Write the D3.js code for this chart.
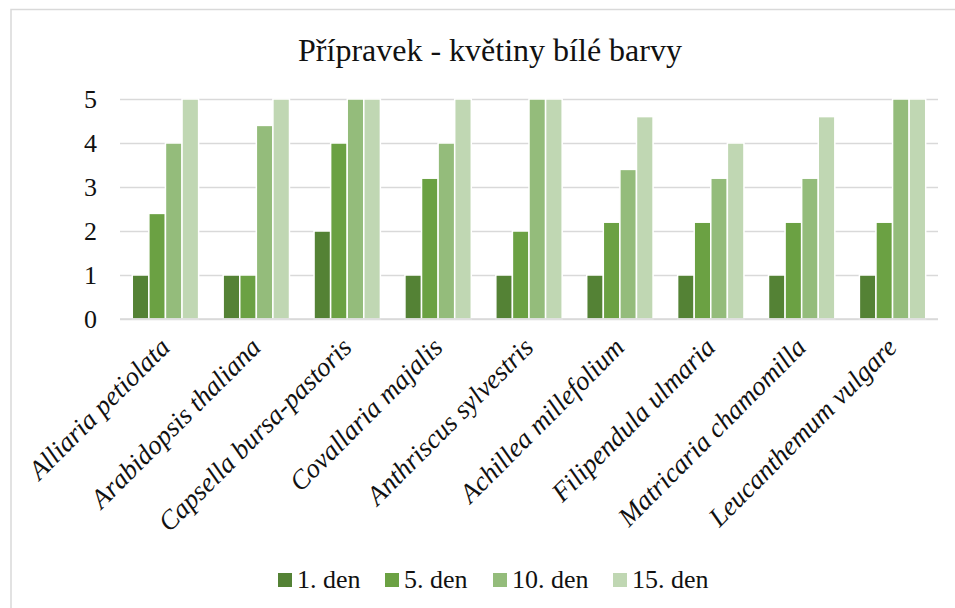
<!DOCTYPE html>
<html>
<head>
<meta charset="utf-8">
<script src="https://cdn.jsdelivr.net/npm/d3@7"></script>
<style>
  body { margin: 0; background: #fff; }
</style>
</head>
<body>
<div id="wrapper"></div>
<script>
const categories = [
  "Alliaria petiolata", "Arabidopsis thaliana", "Capsella bursa-pastoris",
  "Covallaria majalis", "Anthriscus sylvestris", "Achillea millefolium",
  "Filipendula ulmaria", "Matricaria chamomilla", "Leucanthemum vulgare"
]
const seriesNames = ["1. den", "5. den", "10. den", "15. den"]
const den1 = [1, 1, 2, 1, 1, 1, 1, 1, 1]
const den5 = [2.4, 1, 4, 3.2, 2, 2.2, 2.2, 2.2, 2.2]
const den10 = [4, 4.4, 5, 4, 5, 3.4, 3.2, 3.2, 5]
const den15 = [5, 5, 5, 5, 5, 4.6, 4, 4.6, 5]
const yTicks = [0, 1, 2, 3, 4, 5]
const colors = ["#548235", "#6ba143", "#94bc7b", "#c0d7b3"]

const seriesValues = [den1, den5, den10, den15]
const serif = '"Liberation Serif"'

const dimensions = {
  width: 955,
  height: 608,
  margin: { top: 99, right: 17, bottom: 289, left: 120 },
}
dimensions.boundedWidth = dimensions.width - dimensions.margin.left - dimensions.margin.right
dimensions.boundedHeight = dimensions.height - dimensions.margin.top - dimensions.margin.bottom

const svg = d3.select("#wrapper")
  .append("svg")
    .attr("width", dimensions.width)
    .attr("height", dimensions.height)

// chart frame (runs off the right and bottom of the shot)
svg.append("rect")
    .attr("x", 11)
    .attr("y", 9.5)
    .attr("width", 960)
    .attr("height", 620)
    .attr("fill", "none")
    .attr("stroke", "#d9d9d9")
    .attr("stroke-width", 1.5)

svg.append("text")
    .attr("x", 490)
    .attr("y", 61)
    .attr("text-anchor", "middle")
    .attr("font-size", 32)
    .style("font-family", serif)
    .attr("fill", "#111")
    .text("Přípravek - květiny bílé barvy")

const bounds = svg.append("g")
    .attr("transform", `translate(${dimensions.margin.left}, ${dimensions.margin.top})`)

const yScale = d3.scaleLinear()
  .domain([0, 5])
  .range([dimensions.boundedHeight, 0])

const xScale = d3.scaleBand()
  .domain(categories)
  .range([0, dimensions.boundedWidth])
  .paddingInner(0.27)
  .paddingOuter(0.135)

const seriesScale = d3.scaleBand()
  .domain(seriesNames)
  .range([0, xScale.bandwidth()])

// gridlines
const yAxis = bounds.append("g")
  .call(d3.axisLeft(yScale)
    .tickValues(yTicks)
    .tickFormat(d3.format("d"))
    .tickSize(-dimensions.boundedWidth)
    .tickPadding(23))
yAxis.select(".domain").remove()
yAxis.selectAll(".tick line")
    .attr("stroke", "#d9d9d9")
    .attr("stroke-width", 1.5)
yAxis.selectAll(".tick text")
    .attr("font-size", 26)
    .style("font-family", serif)
    .attr("fill", "#111")

// bars
const groups = bounds.selectAll(".cat")
  .data(categories)
  .join("g")
    .attr("transform", d => `translate(${xScale(d)}, 0)`)

groups.selectAll("rect")
  .data((d, i) => seriesNames.map((s, j) => ({ s, v: seriesValues[j][i], c: colors[j] })))
  .join("rect")
    .attr("x", d => seriesScale(d.s))
    .attr("width", seriesScale.bandwidth())
    .attr("y", d => yScale(d.v))
    .attr("height", d => dimensions.boundedHeight - yScale(d.v))
    .attr("fill", d => d.c)
    .attr("stroke", "#fff")
    .attr("stroke-width", 1.5)

// x axis line
bounds.append("line")
    .attr("x1", 0)
    .attr("x2", dimensions.boundedWidth)
    .attr("y1", dimensions.boundedHeight)
    .attr("y2", dimensions.boundedHeight)
    .attr("stroke", "#d9d9d9")
    .attr("stroke-width", 1.5)

// rotated category labels
bounds.selectAll(".xlabel")
  .data(categories)
  .join("text")
    .attr("transform", d => `translate(${xScale(d) + xScale.bandwidth() / 2 + 6}, ${dimensions.boundedHeight + 30}) rotate(-45)`)
    .attr("text-anchor", "end")
    .attr("font-size", 27)
    .attr("font-style", "italic")
    .style("font-family", serif)
    .attr("fill", "#111")
    .text(d => d)

// legend
const legendX = [278, 385, 493, 613]
const legend = svg.append("g")
  .selectAll("g")
  .data(seriesNames)
  .join("g")
    .attr("transform", (d, i) => `translate(${legendX[i]}, 580)`)

legend.append("rect")
    .attr("x", 0)
    .attr("y", -7)
    .attr("width", 14)
    .attr("height", 14)
    .attr("fill", (d, i) => colors[i])

legend.append("text")
    .attr("x", 19)
    .attr("y", 8)
    .attr("font-size", 26)
    .style("font-family", serif)
    .attr("fill", "#111")
    .text(d => d)
</script>
</body>
</html>
